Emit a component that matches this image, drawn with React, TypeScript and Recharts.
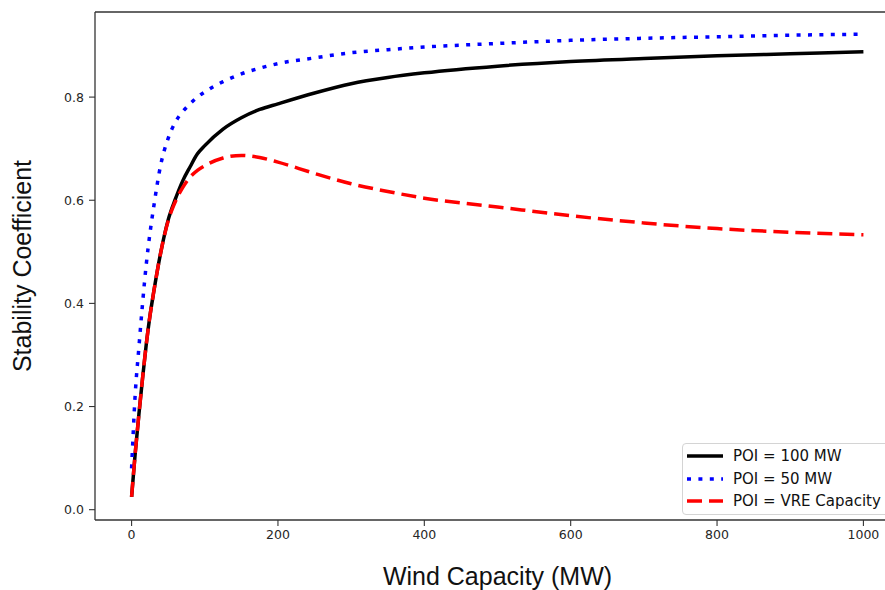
import React from 'react';
import { LineChart, Line, XAxis, YAxis, ReferenceLine, Legend } from 'recharts';

// Wind capacity (MW) sample points
const capacityMW = [0, 5, 10, 15, 20, 25, 30, 40, 50, 60, 70, 80, 90, 100, 125, 150, 175, 200, 250, 300, 350, 400, 500, 600, 700, 800, 900, 1000];

// Stability coefficient per POI limit
const poi100 = [0.025, 0.11, 0.185, 0.255, 0.32, 0.375, 0.42, 0.5, 0.562, 0.603, 0.638, 0.665, 0.69, 0.706, 0.738, 0.76, 0.776, 0.787, 0.808, 0.826, 0.838, 0.847, 0.86, 0.869, 0.875, 0.88, 0.884, 0.888];
const poi50 = [0.08, 0.225, 0.315, 0.4, 0.475, 0.535, 0.585, 0.67, 0.72, 0.752, 0.772, 0.787, 0.8, 0.81, 0.83, 0.845, 0.856, 0.865, 0.876, 0.886, 0.892, 0.897, 0.904, 0.91, 0.914, 0.917, 0.92, 0.922];
const poiVre = [0.025, 0.11, 0.185, 0.255, 0.32, 0.375, 0.42, 0.5, 0.56, 0.598, 0.625, 0.645, 0.658, 0.667, 0.682, 0.687, 0.683, 0.674, 0.652, 0.632, 0.617, 0.604, 0.587, 0.57, 0.556, 0.545, 0.538, 0.533];

const xTicks = [0, 200, 400, 600, 800, 1000];
const yTicks = [0, 0.2, 0.4, 0.6, 0.8];

const seriesNames = ['POI = 100 MW', 'POI = 50 MW', 'POI = VRE Capacity'];

const rows = capacityMW.map((mw, i) => ({
  mw,
  poi100: poi100[i],
  poi50: poi50[i],
  poiVre: poiVre[i],
}));

const series = [
  { key: 'poi100', name: seriesNames[0], color: '#000000', dash: undefined as string | undefined },
  { key: 'poi50', name: seriesNames[1], color: '#0000ff', dash: '4 7.4' },
  { key: 'poiVre', name: seriesNames[2], color: '#ff0000', dash: '15 7' },
];

const tickFont = { fontFamily: 'DejaVu Sans', fontSize: 12.5, fill: '#262626' };
const spine = '#333333';

const LegendBox = () => (
  <div
    style={{
      border: '1px solid #d4d4d4',
      borderRadius: 4,
      background: 'rgba(255,255,255,0.85)',
      padding: '1px 10px 1px 4px',
      fontFamily: 'DejaVu Sans',
      fontSize: 15,
      color: '#111',
      whiteSpace: 'nowrap',
      width: 210,
    }}
  >
    {series.map((s) => (
      <div key={s.key} style={{ display: 'flex', alignItems: 'center', height: 22.5 }}>
        <svg width={36} height={6} style={{ display: 'block' }}>
          <line x1={0} y1={3} x2={36} y2={3} stroke={s.color} strokeWidth={3.5} strokeDasharray={s.dash} />
        </svg>
        <span style={{ marginLeft: 10 }}>{s.name}</span>
      </div>
    ))}
  </div>
);

const XTitle = ({ viewBox }: any) => (
  <text
    x={viewBox.x + viewBox.width / 2}
    y={585}
    textAnchor="middle"
    style={{ fontFamily: 'Liberation Sans', fontSize: 25, fill: '#111' }}
  >
    Wind Capacity (MW)
  </text>
);

const YTitle = ({ viewBox }: any) => {
  const cy = viewBox.y + viewBox.height / 2;
  return (
    <text
      x={30.5}
      y={cy}
      transform={`rotate(-90, 30.5, ${cy})`}
      textAnchor="middle"
      style={{ fontFamily: 'Liberation Sans', fontSize: 25, fill: '#111' }}
    >
      Stability Coefficient
    </text>
  );
};

export default function App() {
  return (
    <div style={{ position: 'absolute', left: 0, top: 0, width: 885, height: 590, overflow: 'hidden', background: '#fff' }}>
      <LineChart width={920} height={590} data={rows} margin={{ top: 12, right: 20, bottom: 0, left: 0 }}>
        <XAxis
          dataKey="mw"
          type="number"
          domain={[-50, 1050]}
          allowDataOverflow
          ticks={xTicks}
          tickSize={6}
          tickMargin={4}
          height={70}
          tick={tickFont}
          axisLine={{ stroke: spine, strokeWidth: 1.3 }}
          tickLine={{ stroke: spine, strokeWidth: 1.1 }}
          label={<XTitle />}
        />
        <YAxis
          type="number"
          domain={[-0.02, 0.965]}
          allowDataOverflow
          ticks={yTicks}
          tickFormatter={(v: number) => v.toFixed(1)}
          tickSize={6}
          tickMargin={5}
          width={95}
          tick={tickFont}
          axisLine={{ stroke: spine, strokeWidth: 1.3 }}
          tickLine={{ stroke: spine, strokeWidth: 1.1 }}
          label={<YTitle />}
        />
        <ReferenceLine y={0.965} stroke={spine} strokeWidth={1.3} />
        <ReferenceLine x={1050} stroke={spine} strokeWidth={1.3} />
        {series.map((s) => (
          <Line
            key={s.key}
            dataKey={s.key}
            name={s.name}
            type="monotone"
            stroke={s.color}
            strokeWidth={3.5}
            strokeDasharray={s.dash}
            dot={false}
            activeDot={false}
            isAnimationActive={false}
          />
        ))}
        <Legend
          layout="horizontal"
          verticalAlign="middle"
          align="center"
          content={<LegendBox />}
          wrapperStyle={{ left: 682, top: 443, width: 'auto', height: 'auto' }}
        />
      </LineChart>
    </div>
  );
}
